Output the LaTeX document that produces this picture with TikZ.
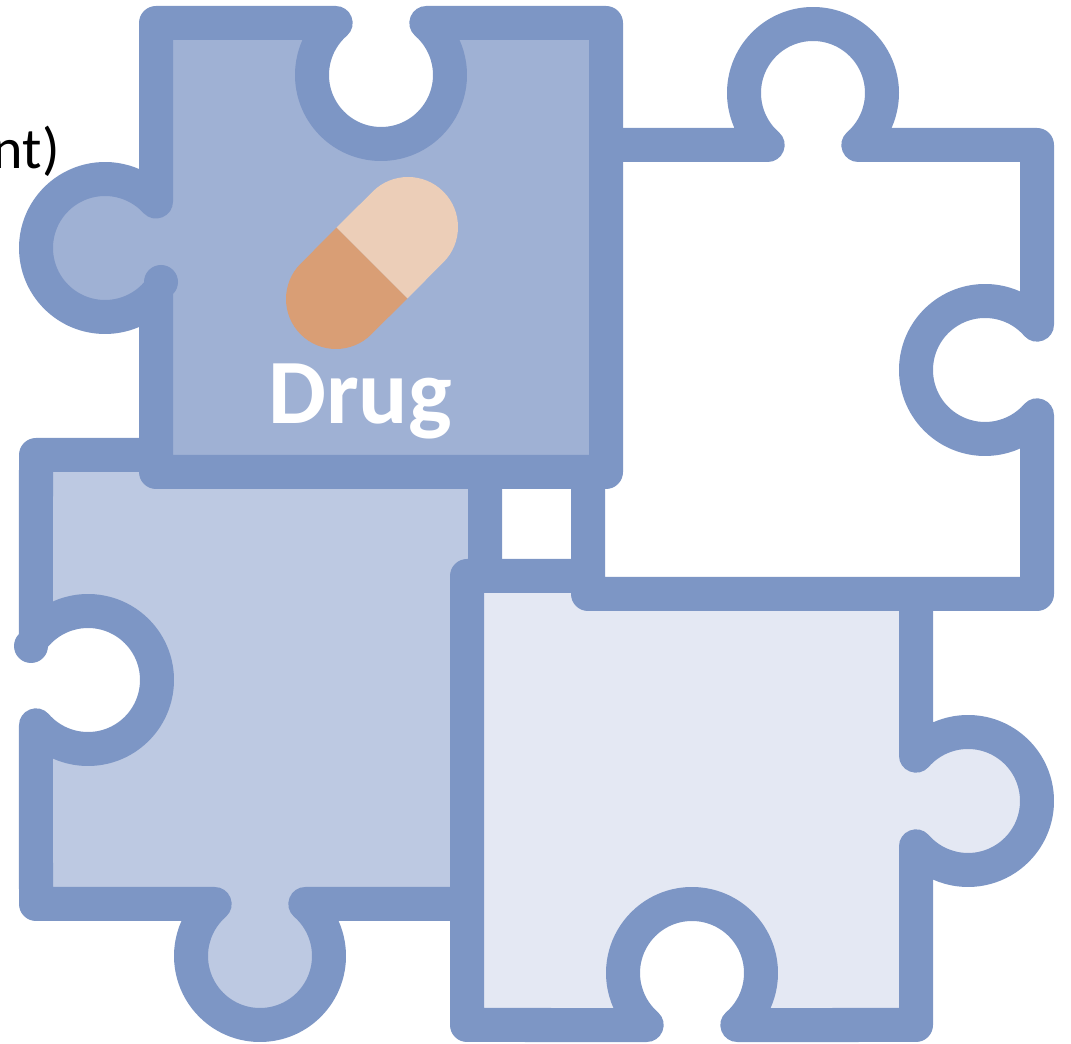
\documentclass[tikz,border=0pt]{standalone}
\usepackage{fontspec}
\setmainfont{Carlito}
\definecolor{edgeblue}{HTML}{7D96C5}
\definecolor{fillA}{HTML}{9FB1D4}
\definecolor{fillB}{HTML}{BDC9E2}
\definecolor{fillC}{HTML}{E4E8F3}
\definecolor{pillDark}{HTML}{D99E75}
\definecolor{pillLight}{HTML}{ECCEB8}
\tikzset{piece/.style={draw=edgeblue,line width=34pt,line join=round}}
\begin{document}
\begin{tikzpicture}[x=1pt,y=1pt]
\useasboundingbox (0,0) rectangle (1071,1044);
% lower-left piece
\path[piece,fill=fillB]
  (36,589) -- (485,589) -- (485,140)
  -- ([shift={(48.91:69pt)}]260,88) arc[start angle=48.91,end angle=-228.91,radius=69pt]
  -- (36,140)
  -- ([shift={(221.09:69pt)}]88,364) arc[start angle=221.09,end angle=498.91,radius=69pt]
  -- cycle;
\fill[edgeblue] (31,398) circle[radius=17pt];
% lower-right piece
\path[piece,fill=fillC]
  (467,468) -- (916,468)
  -- ([shift={(138.91:69pt)}]968,243) arc[start angle=138.91,end angle=-138.91,radius=69pt]
  -- (916,19)
  -- ([shift={(-48.91:69pt)}]692,71) arc[start angle=-48.91,end angle=228.91,radius=69pt]
  -- (467,19) -- cycle;
% upper-right piece
\path[piece,fill=white]
  (588,899)
  -- ([shift={(228.91:69pt)}]813,951) arc[start angle=228.91,end angle=-48.91,radius=69pt]
  -- (1037,899)
  -- ([shift={(41.09:69pt)}]985,674) arc[start angle=41.09,end angle=318.91,radius=69pt]
  -- (1037,450) -- (588,450) -- cycle;
% upper-left piece
\path[piece,fill=fillA]
  (156,572)
  -- ([shift={(317.66:69pt)}]105,796) arc[start angle=317.66,end angle=42.34,radius=69pt]
  -- (156,1021)
  -- ([shift={(131.09:69pt)}]381,969) arc[start angle=131.09,end angle=408.91,radius=69pt]
  -- (606,1021) -- (606,572) -- cycle;
\fill[edgeblue] (161,762) circle[radius=17pt];
% capsule
\fill[pillDark] (336.6,816.4) -- (407.4,745.6) -- ([shift={(-45:50pt)}]336,745)
  arc[start angle=-45,end angle=-225,radius=50pt] -- cycle;
\fill[pillLight] (336.6,816.4) -- ([shift={(135:50pt)}]408,817)
  arc[start angle=135,end angle=-45,radius=50pt] -- (407.4,745.6) -- cycle;
% labels
\node[anchor=base east,inner sep=0pt,text=black] (cut) at (60,875)
  {\fontsize{58}{58}\selectfont nt)};
\node[anchor=base west,inner sep=0pt,text=white] (drug) at (268,620)
  {\fontsize{92}{92}\selectfont\bfseries Drug};
\end{tikzpicture}
\end{document}
